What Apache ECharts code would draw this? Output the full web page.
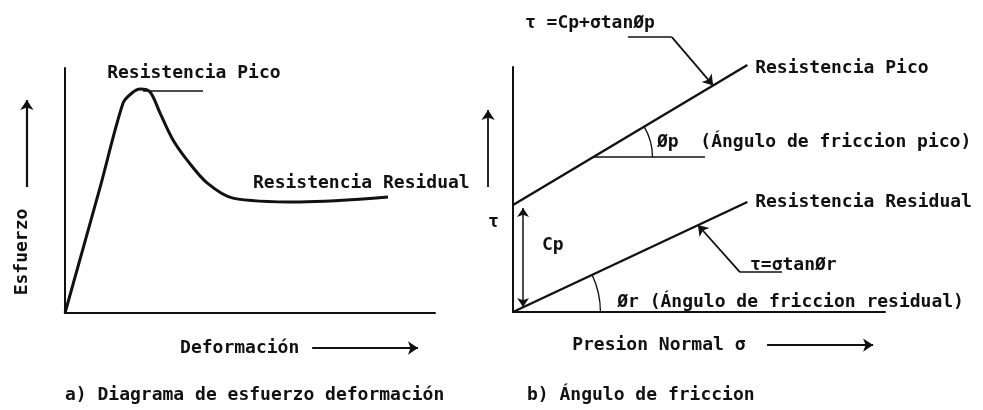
<!DOCTYPE html>
<html>
<head>
<meta charset="utf-8">
<script src="https://cdn.jsdelivr.net/npm/echarts@6/dist/echarts.min.js"></script>
<style>
  html, body { margin: 0; background: #fff; }
  #chart { width: 983px; height: 410px; }
</style>
</head>
<body>
<div id="chart"></div>
<script>
// a) curva esfuerzo - deformación (unidades relativas 0..100)
const curveX = [0, 9.5, 15.7, 18.1, 20.3, 23.0, 25.7, 29.2, 33.0, 38.4, 45.4, 63.5, 87.3]
const curveY = [0, 51.4, 85.7, 89.8, 91.4, 90.2, 81.6, 70.6, 62.4, 53.1, 46.9, 45.3, 47.3]

// b) envolventes de resistencia (sigma, tau)
const envelopeX = [0, 63]
const peakY = [43.7, 100.8]
const residualY = [0, 44.9]

// vértices de los ángulos (pico, residual) y radio en unidades de x
const anglePeak = [21.5, 63.2, 16]
const angleResidual = [0, 0, 23.5]

// textos del panel a): [x, y, texto]
const textsA = [
  [11.4, 98, 'Resistencia Pico'],
  [50.8, 53.1, 'Resistencia Residual'],
  [31.1, -14.3, 'Deformación']
]
// textos del panel b)
const textsB = [
  [3.2, 118, 'τ =Cp+σtanØp'],
  [65.1, 99.6, 'Resistencia Pico'],
  [65.1, 44.9, 'Resistencia Residual'],
  [38.7, 69.4, 'Øp  (Ángulo de friccion pico)'],
  [28.0, 4.1, 'Ør (Ángulo de friccion residual)'],
  [63.7, 19.2, 'τ=σtanØr'],
  [7.8, 27.3, 'Cp'],
  [-6.7, 36.7, 'τ'],
  [15.9, -13.5, 'Presion Normal σ']
]

// líneas de referencia (sin flecha)
const leadersA = [
  [[21.1, 90.6], [37.3, 90.6]]
]
const leadersB = [
  [[30.9, 112.2], [42.7, 112.2]],
  [[61.0, 16.3], [72.3, 16.3]],
  [[21.5, 63.2], [51.6, 63.2]]
]
// flechas
const arrowsA = [
  [[-10.3, 51.4], [-10.3, 86.9]],
  [[66.8, -14.3], [95.4, -14.3]]
]
const arrowsB = [
  [[42.7, 112.2], [53.8, 92.5]],
  [[61.0, 16.3], [49.7, 35.5]],
  [[-6.7, 51], [-6.7, 82.4]],
  [[68.3, -13.5], [96.8, -13.5]]
]
const cpArrow = [[2.7, 2.0], [2.7, 42.5]]

const ink = '#111'
const font = '"DejaVu Sans Mono", monospace'
const fontSize = 18
const fontWeight = 'bold'

const chart = echarts.init(document.getElementById('chart'))

const axis = (gridIndex) => ({
  type: 'value', gridIndex, min: 0, max: 100,
  axisLine: { show: true, lineStyle: { color: ink, width: 2 } },
  axisTick: { show: false }, axisLabel: { show: false }, splitLine: { show: false }
})

const textSeries = (idx, texts) => ({
  type: 'scatter', xAxisIndex: idx, yAxisIndex: idx, symbolSize: 0, clip: false, silent: true,
  itemStyle: { opacity: 1 },
  data: texts.map((t) => ({ value: [t[0], t[1]], name: t[2] })),
  label: {
    show: true, position: 'right', distance: 0, formatter: '{b}',
    color: ink, fontFamily: font, fontSize: fontSize, fontWeight: fontWeight
  }
})

const linesSeries = (idx, coords, arrow, width) => ({
  type: 'lines', coordinateSystem: 'cartesian2d', xAxisIndex: idx, yAxisIndex: idx,
  clip: false, silent: true,
  symbol: arrow ? ['none', 'arrow'] : ['none', 'none'],
  symbolSize: 10,
  lineStyle: { color: ink, width: width, opacity: 1 },
  data: coords.map((c) => ({ coords: c }))
})

chart.setOption({
  animation: false,
  grid: [
    { left: 65, top: 68, width: 370, height: 245 },
    { left: 513, top: 67, width: 372, height: 245 }
  ],
  xAxis: [axis(0), axis(1)],
  yAxis: [axis(0), axis(1)],
  series: [
    {
      type: 'line', xAxisIndex: 0, yAxisIndex: 0, smooth: 0.3,
      showSymbol: false, lineStyle: { color: ink, width: 3 },
      data: curveX.map((x, i) => [x, curveY[i]])
    },
    {
      type: 'line', xAxisIndex: 1, yAxisIndex: 1, clip: false,
      showSymbol: false, lineStyle: { color: ink, width: 2.4 },
      data: envelopeX.map((x, i) => [x, peakY[i]])
    },
    {
      type: 'line', xAxisIndex: 1, yAxisIndex: 1, clip: false,
      showSymbol: false, lineStyle: { color: ink, width: 2.4 },
      data: envelopeX.map((x, i) => [x, residualY[i]])
    },
    textSeries(0, textsA),
    textSeries(1, textsB),
    linesSeries(0, leadersA, false, 1.5),
    linesSeries(1, leadersB, false, 1.5),
    linesSeries(0, arrowsA, true, 2.2),
    linesSeries(1, arrowsB, true, 1.8),
    {
      type: 'lines', coordinateSystem: 'cartesian2d', xAxisIndex: 1, yAxisIndex: 1,
      clip: false, symbol: ['arrow', 'arrow'], symbolSize: 9, silent: true,
      lineStyle: { color: ink, width: 1.5, opacity: 1 },
      data: [{ coords: cpArrow }]
    },
    {
      type: 'scatter', xAxisIndex: 0, yAxisIndex: 0, symbolSize: 0, clip: false, silent: true,
      itemStyle: { opacity: 1 },
      data: [{ value: [-11.6, 24.9], name: 'Esfuerzo' }],
      label: {
        show: true, position: 'inside', rotate: 90, formatter: '{b}',
        color: ink, fontFamily: font, fontSize: fontSize, fontWeight: fontWeight
      }
    }
  ]
})

// arcos de los ángulos, calculados desde las escalas de la grilla b)
const arcFor = (v, lineY) => {
  const c = chart.convertToPixel({ gridIndex: 1 }, [v[0], v[1]])
  const e = chart.convertToPixel({ gridIndex: 1 }, [v[0] + v[2], v[1]])
  const a = chart.convertToPixel({ gridIndex: 1 }, [envelopeX[0], lineY[0]])
  const b = chart.convertToPixel({ gridIndex: 1 }, [envelopeX[1], lineY[1]])
  const theta = Math.atan2(a[1] - b[1], b[0] - a[0])
  return {
    type: 'arc', silent: true,
    shape: { cx: c[0], cy: c[1], r: e[0] - c[0], startAngle: -theta, endAngle: 0 },
    style: { stroke: ink, fill: 'none', lineWidth: 1.3 }
  }
}

const captionFont = fontWeight + ' ' + fontSize + 'px ' + font

chart.setOption({
  graphic: [
    arcFor(anglePeak, peakY),
    arcFor(angleResidual, residualY),
    {
      type: 'text', left: 65, top: 386,
      style: { text: 'a) Diagrama de esfuerzo deformación', fill: ink, font: captionFont }
    },
    {
      type: 'text', left: 527, top: 386,
      style: { text: 'b) Ángulo de friccion', fill: ink, font: captionFont }
    }
  ]
})
</script>
</body>
</html>
